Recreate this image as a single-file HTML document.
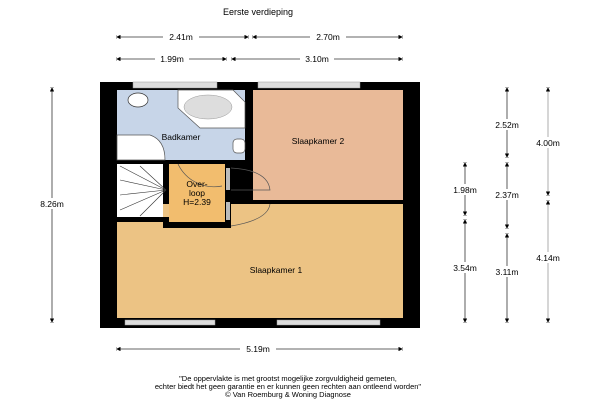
<!DOCTYPE html><html><head><style>body{margin:0;background:#fff}svg{display:block}text{font-family:"Liberation Sans",sans-serif}</style></head><body>
<svg width="600" height="400" viewBox="0 0 600 400" xmlns="http://www.w3.org/2000/svg">
<defs><marker id="a" viewBox="0 0 10 10" refX="9" refY="5" markerWidth="5" markerHeight="5" orient="auto-start-reverse"><path d="M0,0L10,5L0,10z M10,0v10" fill="#000" stroke="#000"/></marker></defs>
<text x="258" y="15" font-size="9" text-anchor="middle">Eerste verdieping</text>
<g stroke="#333" stroke-width="0.8" marker-start="url(#a)" marker-end="url(#a)">
<line x1="117" y1="37" x2="248" y2="37"/><line x1="253" y1="37" x2="402" y2="37"/>
<line x1="117" y1="59" x2="226" y2="59"/><line x1="232" y1="59" x2="402" y2="59"/>
<line x1="117" y1="349" x2="402" y2="349"/>
<line x1="52" y1="88" x2="52" y2="322"/>
<line x1="465" y1="163" x2="465" y2="215"/><line x1="465" y1="220" x2="465" y2="322"/>
<line x1="507" y1="88" x2="507" y2="157"/><line x1="507" y1="163" x2="507" y2="228"/><line x1="507" y1="234" x2="507" y2="322"/>
<line x1="548" y1="88" x2="548" y2="195" stroke="#999"/><line x1="548" y1="201" x2="548" y2="322" stroke="#999"/>
</g>
<g font-size="8.5" text-anchor="middle">
<rect x="163" y="31" width="36" height="11" fill="#fff"/><text x="181" y="40">2.41m</text>
<rect x="310" y="31" width="36" height="11" fill="#fff"/><text x="328" y="40">2.70m</text>
<rect x="155" y="53" width="34" height="11" fill="#fff"/><text x="172" y="62">1.99m</text>
<rect x="300" y="53" width="34" height="11" fill="#fff"/><text x="317" y="62">3.10m</text>
<rect x="240" y="343" width="36" height="11" fill="#fff"/><text x="258" y="352">5.19m</text>
<rect x="34" y="198" width="36" height="11" fill="#fff"/><text x="52" y="207">8.26m</text>
<rect x="448" y="184" width="34" height="11" fill="#fff"/><text x="465" y="193">1.98m</text>
<rect x="448" y="262" width="34" height="11" fill="#fff"/><text x="465" y="271">3.54m</text>
<rect x="490" y="119" width="34" height="11" fill="#fff"/><text x="507" y="128">2.52m</text>
<rect x="490" y="189" width="34" height="11" fill="#fff"/><text x="507" y="198">2.37m</text>
<rect x="490" y="266" width="34" height="11" fill="#fff"/><text x="507" y="275">3.11m</text>
<rect x="531" y="137" width="34" height="11" fill="#fff"/><text x="548" y="146">4.00m</text>
<rect x="531" y="252" width="34" height="11" fill="#fff"/><text x="548" y="261">4.14m</text>
</g>
<rect x="100" y="82" width="320" height="246" fill="#000"/>
<rect x="117" y="204" width="286" height="114" fill="#ecc384"/>
<rect x="253" y="90" width="150" height="110" fill="#e9ba98"/>
<rect x="117" y="90" width="128" height="70" fill="#c7d5e8"/>
<rect x="117" y="164" width="46" height="53" fill="#fff"/>
<rect x="117" y="217" width="52" height="5" fill="#000"/>
<rect x="163" y="217" width="6" height="11" fill="#000"/>
<rect x="163" y="222" width="68" height="6" fill="#000"/>
<rect x="169" y="164" width="56" height="58" fill="#f2bd6e"/>
<rect x="225" y="164" width="6" height="64" fill="#000"/>
<rect x="226" y="168" width="4" height="22" fill="#bbb"/><rect x="226" y="202" width="4" height="18" fill="#bbb"/>
<rect x="133" y="82" width="84" height="6" fill="#ddd" stroke="#999" stroke-width="0.5"/>
<rect x="258" y="82" width="102" height="6" fill="#ddd" stroke="#999" stroke-width="0.5"/>
<rect x="125" y="320" width="90" height="5" fill="#ddd" stroke="#999" stroke-width="0.5"/>
<rect x="277" y="320" width="103" height="5" fill="#ddd" stroke="#999" stroke-width="0.5"/>
<path d="M178,90 H233 L245,102 V128 H200 L178,108Z" fill="#fff" stroke="#555" stroke-width="0.7"/>
<ellipse cx="208" cy="107" rx="24" ry="12" fill="#ddd" stroke="#999" stroke-width="0.5"/>
<ellipse cx="138" cy="100" rx="10" ry="7" fill="#fff" stroke="#333" stroke-width="0.7"/>
<path d="M117,135 H150 Q165,140 165,160 H117Z" fill="#fff" stroke="#555" stroke-width="0.7"/>
<rect x="233" y="139" width="12" height="14" rx="4" fill="#fff" stroke="#555" stroke-width="0.7"/>
<g stroke="#333" stroke-width="0.6">
<line x1="166" y1="190" x2="120" y2="166"/><line x1="166" y1="190" x2="120" y2="180"/><line x1="166" y1="190" x2="120" y2="195"/><line x1="166" y1="190" x2="120" y2="210"/><line x1="166" y1="190" x2="140" y2="216"/><line x1="166" y1="190" x2="140" y2="166"/>
</g>
<g fill="none" stroke="#555" stroke-width="0.7">
<path d="M178,164 A40,40 0 0 0 222,186"/><path d="M231,168 Q268,170 270,190 H231"/><path d="M231,226 Q268,220 270,204"/>
</g>
<g font-size="8.5" text-anchor="middle">
<text x="181" y="140">Badkamer</text>
<text x="318" y="144">Slaapkamer 2</text>
<text x="197" y="187">Over-</text><text x="197" y="196">loop</text><text x="197" y="205">H=2.39</text>
<text x="276" y="273">Slaapkamer 1</text>
</g>
<g font-size="7.5" text-anchor="middle">
<text x="288" y="381">"De oppervlakte is met grootst mogelijke zorgvuldigheid gemeten,</text>
<text x="288" y="389">echter biedt het geen garantie en er kunnen geen rechten aan ontleend worden"</text>
<text x="288" y="397">© Van Roemburg &amp; Woning Diagnose</text>
</g>
</svg></body></html>
